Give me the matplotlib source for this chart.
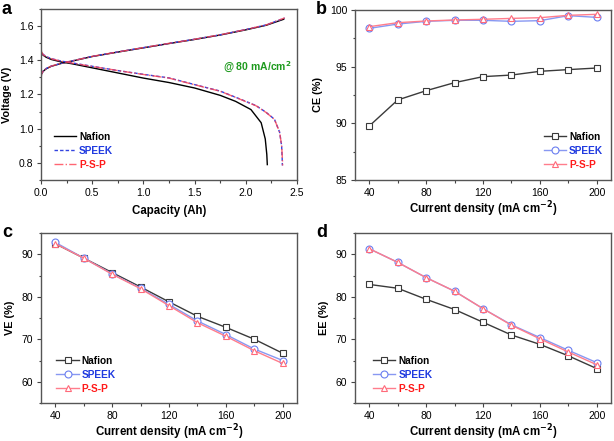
import matplotlib
matplotlib.use('Agg')
from matplotlib import pyplot as plt
from matplotlib.ticker import AutoMinorLocator, MultipleLocator

plt.rcParams['font.family'] = ['Liberation Sans', 'DejaVu Sans']

# panel a: charge / discharge curves at 80 mA/cm2
nafion_chg_cap = [0, 0.005, 0.02, 0.05, 0.1, 0.2, 0.3, 0.5, 0.75, 1.0, 1.25, 1.5, 1.75, 2.0, 2.2, 2.37]
nafion_chg_v = [1.29, 1.32, 1.335, 1.35, 1.365, 1.382, 1.395, 1.422, 1.448, 1.473, 1.498, 1.522, 1.548, 1.578, 1.605, 1.640]
speek_chg_cap = [0, 0.005, 0.02, 0.05, 0.1, 0.2, 0.3, 0.5, 0.75, 1.0, 1.25, 1.5, 1.75, 2.0, 2.2, 2.38]
speek_chg_v = [1.29, 1.32, 1.336, 1.352, 1.366, 1.383, 1.396, 1.423, 1.449, 1.474, 1.499, 1.523, 1.549, 1.580, 1.607, 1.647]
psp_chg_cap = [0, 0.005, 0.02, 0.05, 0.1, 0.2, 0.3, 0.5, 0.75, 1.0, 1.25, 1.5, 1.75, 2.0, 2.2, 2.38]
psp_chg_v = [1.29, 1.32, 1.336, 1.351, 1.366, 1.383, 1.396, 1.423, 1.449, 1.474, 1.499, 1.523, 1.549, 1.580, 1.607, 1.648]

nafion_dis_cap = [0, 0.005, 0.02, 0.05, 0.1, 0.2, 0.3, 0.5, 0.75, 1.0, 1.25, 1.5, 1.75, 1.9, 2.05, 2.15, 2.19, 2.205, 2.21]
nafion_dis_v = [1.46, 1.445, 1.43, 1.418, 1.405, 1.39, 1.38, 1.356, 1.326, 1.296, 1.27, 1.238, 1.195, 1.16, 1.112, 1.035, 0.94, 0.85, 0.79]
speek_dis_cap = [0, 0.005, 0.02, 0.05, 0.1, 0.2, 0.3, 0.5, 0.75, 1.0, 1.25, 1.5, 1.75, 1.95, 2.1, 2.2, 2.28, 2.33, 2.35, 2.355, 2.357]
speek_dis_v = [1.47, 1.45, 1.435, 1.422, 1.41, 1.395, 1.385, 1.365, 1.34, 1.318, 1.297, 1.258, 1.22, 1.172, 1.135, 1.095, 1.055, 0.98, 0.90, 0.83, 0.785]
psp_dis_cap = [0, 0.005, 0.02, 0.05, 0.1, 0.2, 0.3, 0.5, 0.75, 1.0, 1.25, 1.5, 1.75, 1.95, 2.1, 2.2, 2.28, 2.33, 2.35, 2.357, 2.36]
psp_dis_v = [1.465, 1.448, 1.434, 1.421, 1.409, 1.394, 1.384, 1.364, 1.34, 1.317, 1.296, 1.257, 1.219, 1.171, 1.134, 1.094, 1.054, 0.98, 0.90, 0.83, 0.785]

# panels b-d: efficiencies vs current density
current = [40, 60, 80, 100, 120, 140, 160, 180, 200]
ce_nafion = [89.76, 92.06, 92.88, 93.59, 94.12, 94.26, 94.59, 94.74, 94.88]
ce_speek = [98.38, 98.76, 99.0, 99.09, 99.09, 99.0, 99.06, 99.5, 99.35]
ce_psp = [98.53, 98.88, 99.03, 99.12, 99.18, 99.26, 99.32, 99.53, 99.62]

ve_nafion = [92.5, 89.1, 85.7, 82.3, 78.8, 75.4, 72.8, 70.0, 66.7]
ve_speek = [92.8, 89.1, 85.4, 82.0, 78.2, 74.3, 71.1, 67.7, 65.0]
ve_psp = [92.5, 89.1, 85.3, 81.9, 77.9, 73.9, 70.7, 67.3, 64.3]

ee_nafion = [82.9, 82.0, 79.4, 77.0, 74.0, 71.0, 68.8, 66.1, 63.1]
ee_speek = [91.3, 88.1, 84.5, 81.3, 77.2, 73.4, 70.4, 67.4, 64.5]
ee_psp = [91.3, 88.1, 84.5, 81.3, 77.2, 73.3, 70.1, 67.0, 64.0]

labels = ['Nafion', 'SPEEK', 'P-S-P']
text_colors = ['black', '#1f3ae0', '#ff1a1a']
line_colors = ['#3a3a3a', '#8898f2', '#ff7d8c']
edge_colors = ['#3a3a3a', '#6a7ef0', '#ff6a7a']
markers = ['s', 'o', '^']

fig = plt.figure(figsize=(6.14, 4.41), dpi=100)

W, H = 614.0, 441.0
def add_ax(l, t, r, b):
    return fig.add_axes([l / W, 1 - b / H, (r - l) / W, (b - t) / H])

ax_a = add_ax(41, 9, 297, 180)
ax_b = add_ax(355, 10, 611, 180)
ax_c = add_ax(41, 233, 297, 403)
ax_d = add_ax(355, 233, 611, 403)

XLAB = 8.3
YLAB = 7.8

def style(ax):
    for sp in ax.spines.values():
        sp.set_color('#555555')
        sp.set_linewidth(1.0)
    ax.tick_params(which='both', direction='out', top=False, right=False,
                   labelsize=7.5, color='#444444', width=0.8, pad=2.5)
    ax.tick_params(which='major', length=3)
    ax.tick_params(which='minor', length=1.8)
    ax.xaxis.set_minor_locator(AutoMinorLocator(2))
    ax.yaxis.set_minor_locator(AutoMinorLocator(2))

def color_legend(leg):
    for t, c in zip(leg.get_texts(), text_colors):
        t.set_color(c)
        t.set_fontweight('bold')

# panel a
ax_a.plot(nafion_chg_cap, nafion_chg_v, '-', color='black', lw=1.0)
ax_a.plot(speek_chg_cap, speek_chg_v, '--', color='#3344e0', lw=1.0, dashes=(2.5, 1.5))
ax_a.plot(psp_chg_cap, psp_chg_v, '-.', color='#ff4050', lw=1.0, alpha=0.8)
h1, = ax_a.plot(nafion_dis_cap, nafion_dis_v, '-', color='black', lw=1.0, label='Nafion')
h2, = ax_a.plot(speek_dis_cap, speek_dis_v, '--', color='#3344e0', lw=1.0, dashes=(2.5, 1.5), label='SPEEK')
h3, = ax_a.plot(psp_dis_cap, psp_dis_v, '-.', color='#ff4050', lw=1.0, alpha=0.8, label='P-S-P')
ax_a.set_xlim(0, 2.5)
ax_a.set_ylim(0.7, 1.7)
ax_a.xaxis.set_major_locator(MultipleLocator(0.5))
ax_a.yaxis.set_major_locator(MultipleLocator(0.2))
style(ax_a)
ax_a.set_xlabel('Capacity (Ah)', fontsize=XLAB, fontweight='bold', labelpad=5)
ax_a.set_ylabel('Voltage (V)', fontsize=YLAB, fontweight='bold', labelpad=5)
ax_a.text(1.78, 1.36, '@ 80 mA/cm$^\\mathbf{2}$', color='#1e9a1e', fontsize=7.5,
          fontweight='bold', ha='left', va='center')
leg = ax_a.legend(handles=[h1, h2, h3], loc='lower left', bbox_to_anchor=(0.05, 0.06),
                  frameon=False, fontsize=7.3, handlelength=2.2, handletextpad=0.3,
                  labelspacing=0.4, borderaxespad=0, borderpad=0)
color_legend(leg)

def eff_panel(ax, series, ylim, yticks, ylabel, legloc, anchor):
    hs = []
    for ys, lab, lc, ec, mk in zip(series, labels, line_colors, edge_colors, markers):
        h, = ax.plot(current, ys, '-', color=lc, lw=1.0, marker=mk, markersize=5,
                     markerfacecolor='white', markeredgecolor=ec, markeredgewidth=0.8, label=lab)
        hs.append(h)
    ax.set_xlim(30, 210)
    ax.set_ylim(*ylim)
    ax.set_xticks([40, 80, 120, 160, 200])
    ax.set_yticks(yticks)
    style(ax)
    ax.set_xlabel('Current density (mA cm$^{\\mathbf{-2}}$)', fontsize=XLAB, fontweight='bold', labelpad=1)
    ax.set_ylabel(ylabel, fontsize=YLAB, fontweight='bold', labelpad=5)
    leg = ax.legend(handles=hs, loc=legloc, bbox_to_anchor=anchor, frameon=False,
                    fontsize=7.3, handlelength=2.2, handletextpad=0.3,
                    labelspacing=0.4, borderaxespad=0, borderpad=0)
    color_legend(leg)

eff_panel(ax_b, [ce_nafion, ce_speek, ce_psp], (85, 100), [85, 90, 95, 100], 'CE (%)',
          'lower right', (0.97, 0.06))
eff_panel(ax_c, [ve_nafion, ve_speek, ve_psp], (55, 95), [60, 70, 80, 90], 'VE (%)',
          'lower left', (0.06, 0.055))
eff_panel(ax_d, [ee_nafion, ee_speek, ee_psp], (55, 95), [60, 70, 80, 90], 'EE (%)',
          'lower left', (0.07, 0.055))

for letter, x, y in [('a', 2, 1), ('b', 316, 1), ('c', 2, 224), ('d', 316, 224)]:
    fig.text(x / W, 1 - y / H, letter, fontsize=13, fontweight='bold', ha='left', va='top')

fig.savefig('out.png', dpi=100)
